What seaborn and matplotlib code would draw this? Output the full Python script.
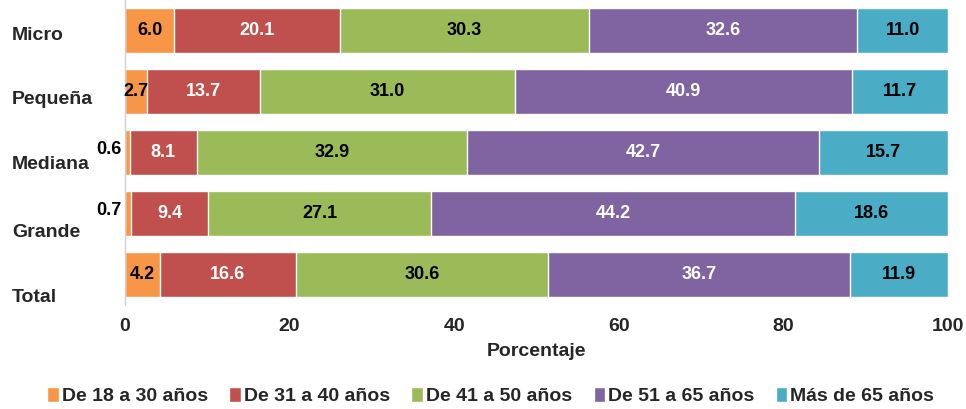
import numpy as np
import pandas as pd
import matplotlib
matplotlib.use("Agg")
import matplotlib.pyplot as plt
from matplotlib.patches import Patch
import seaborn as sns

# === data ===
categories = ["Micro", "Pequeña", "Mediana", "Grande", "Total"]
groups = ["De 18 a 30 años", "De 31 a 40 años", "De 41 a 50 años",
          "De 51 a 65 años", "Más de 65 años"]
age_18_30 = [6.0, 2.7, 0.6, 0.7, 4.2]
age_31_40 = [20.1, 13.7, 8.1, 9.4, 16.6]
age_41_50 = [30.3, 31.0, 32.9, 27.1, 30.6]
age_51_65 = [32.6, 40.9, 42.7, 44.2, 36.7]
age_65_plus = [11.0, 11.7, 15.7, 18.6, 11.9]
x_ticks = [0, 20, 40, 60, 80, 100]

colors = ["#F79646", "#C0504D", "#9BBB59", "#8064A2", "#4BACC6"]
text_colors = ["black", "white", "black", "white", "black"]

sns.set_theme(style="white")
plt.rcParams["font.family"] = ["Liberation Sans", "DejaVu Sans"]
plt.rcParams["font.weight"] = "bold"

series = [age_18_30, age_31_40, age_41_50, age_51_65, age_65_plus]
df = pd.DataFrame({g: v for g, v in zip(groups, series)}, index=categories)
cum = df.cumsum(axis=1)
left = cum - df

fig = plt.figure(figsize=(9.66, 4.09), dpi=100)
ax = fig.add_axes([0.1294, 0.254, 0.852, 0.746])

# stacked bars: overdraw cumulative totals, widest first
for g, c in reversed(list(zip(groups, colors))):
    d = pd.DataFrame({"Empresa": categories, "val": cum[g].values})
    sns.barplot(data=d, y="Empresa", x="val", orient="h", color=c,
                width=0.74, saturation=1, ax=ax, order=categories)

for i, cat in enumerate(categories):
    for g, tc in zip(groups, text_colors):
        v = df.loc[cat, g]
        if v < 1:
            ax.text(-0.4, i - 0.05, f"{v:.1f}", ha="right", va="center",
                    fontsize=13, fontweight="bold", color="black", clip_on=False)
        else:
            ax.text(left.loc[cat, g] + v / 2, i, f"{v:.1f}", ha="center",
                    va="center", fontsize=13, fontweight="bold", color=tc)

ax.set_xlim(0, 100)
ax.set_ylim(4.5, -0.5)
ax.set_xticks(x_ticks)
ax.set_xticklabels([str(t) for t in x_ticks], fontsize=14, fontweight="bold")
ax.tick_params(axis="both", length=0)
ax.tick_params(axis="x", pad=9)
ax.set_yticks([])
ax.set_ylabel("")
# category labels sit left-aligned, a little below their bars
label_shift = [0.08, 0.13, 0.2, 0.31, 0.38]
for i, (cat, s) in enumerate(zip(categories, label_shift)):
    ax.text(-0.137, i + s, cat, transform=ax.get_yaxis_transform(),
            ha="left", va="center", fontsize=14, fontweight="bold")
ax.set_xlabel("Porcentaje", fontsize=14, fontweight="bold", labelpad=6)
for s in ["top", "right", "bottom"]:
    ax.spines[s].set_visible(False)
ax.spines["left"].set_color("#d0d0d0")
ax.spines["left"].set_linewidth(1)

handles = [Patch(facecolor=c, label=g) for g, c in zip(groups, colors)]
fig.legend(handles=handles, loc="center", bbox_to_anchor=(0.508, 0.032), ncol=5,
           frameon=False, handlelength=0.6, handleheight=0.8,
           handletextpad=0.15, columnspacing=1.1,
           prop={"family": ["Liberation Sans"], "weight": "bold", "size": 14})

fig.savefig("out.png", dpi=100)
